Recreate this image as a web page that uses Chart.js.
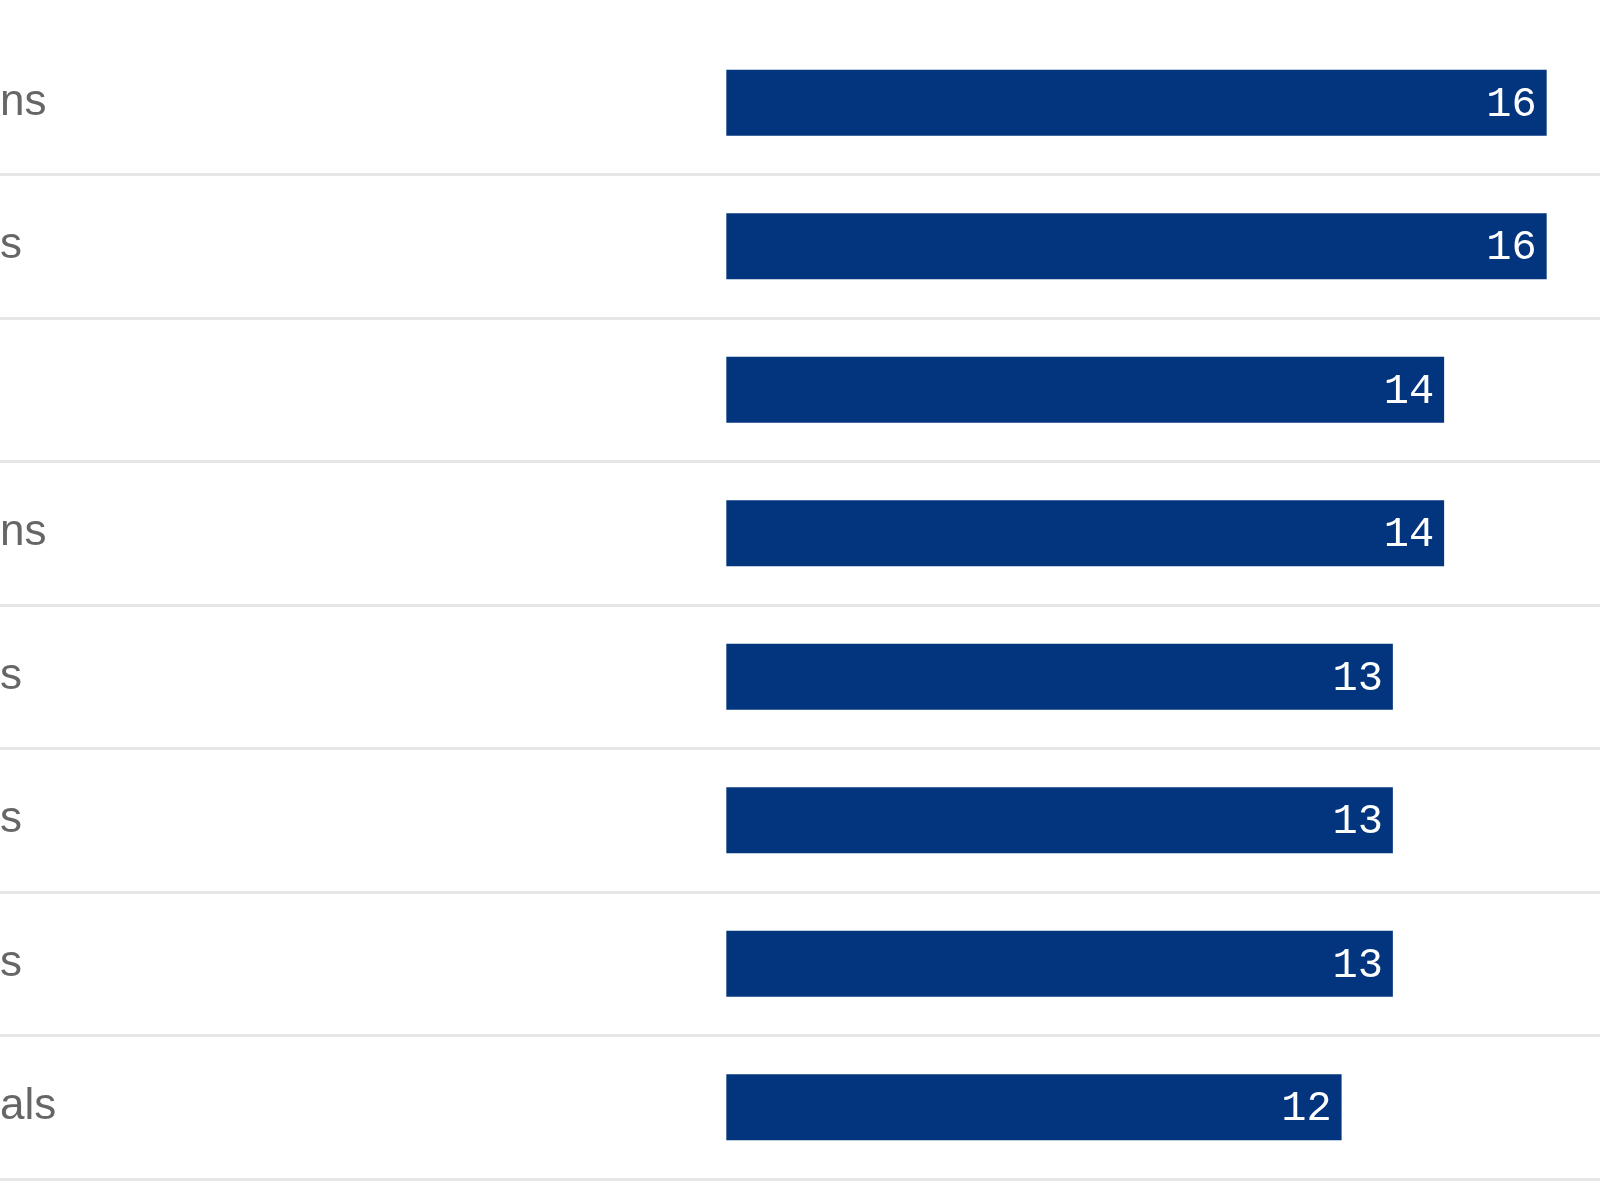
<!DOCTYPE html>
<html>
<head>
<meta charset="utf-8">
<script src="https://cdn.jsdelivr.net/npm/chart.js@4/dist/chart.umd.min.js"></script>
<style>
  html, body { margin: 0; padding: 0; background: #fff; overflow: hidden; }
  #wrap { width: 1600px; height: 1200px; }
</style>
</head>
<body>
<div id="wrap"><canvas id="Chart" width="1600" height="1200"></canvas></div>
<script>
// row labels (only the visible tail of each label is in the picture)
var labels = ['ns', 's', '', 'ns', 's', 's', 's', 'als'];
// bar values
var counts = [16, 16, 14, 14, 13, 13, 13, 12];

// white numbers at the end of each bar
var valueLabels = {
  id: 'valueLabels',
  afterDatasetsDraw: function (chart) {
    var ctx = chart.ctx;
    var meta = chart.getDatasetMeta(0);
    ctx.save();
    ctx.fillStyle = '#ffffff';
    ctx.font = '42px "Liberation Mono", "DejaVu Sans Mono", monospace';
    ctx.textAlign = 'right';
    ctx.textBaseline = 'middle';
    meta.data.forEach(function (bar, i) {
      ctx.fillText(String(counts[i]), bar.x - 10, bar.y + 2);
    });
    ctx.restore();
  }
};

var ctx = document.getElementById('Chart');
var myChart = new Chart(ctx, {
  type: 'bar',
  data: {
    labels: labels,
    datasets: [{
      data: counts,
      backgroundColor: '#03347e',
      barPercentage: 0.46,
      categoryPercentage: 1
    }]
  },
  options: {
    indexAxis: 'y',
    responsive: false,
    animation: false,
    devicePixelRatio: 1,
    layout: { padding: { top: 31, bottom: 21, left: 0, right: 0 } },
    plugins: { legend: { display: false }, tooltip: { enabled: false } },
    scales: {
      x: {
        display: false,
        min: -14.166,
        max: 17.04
      },
      y: {
        position: 'left',
        border: { display: false },
        grid: {
          offset: true,
          drawTicks: false,
          lineWidth: 3,
          color: function (c) { return c.index === 0 ? 'rgba(0,0,0,0)' : '#e6e6e6'; }
        },
        ticks: {
          mirror: true,
          padding: 0,
          color: '#666666',
          font: { family: '"Liberation Sans", Arial, sans-serif', size: 44, lineHeight: 0.8 }
        }
      }
    }
  },
  plugins: [valueLabels]
});
</script>
</body>
</html>
